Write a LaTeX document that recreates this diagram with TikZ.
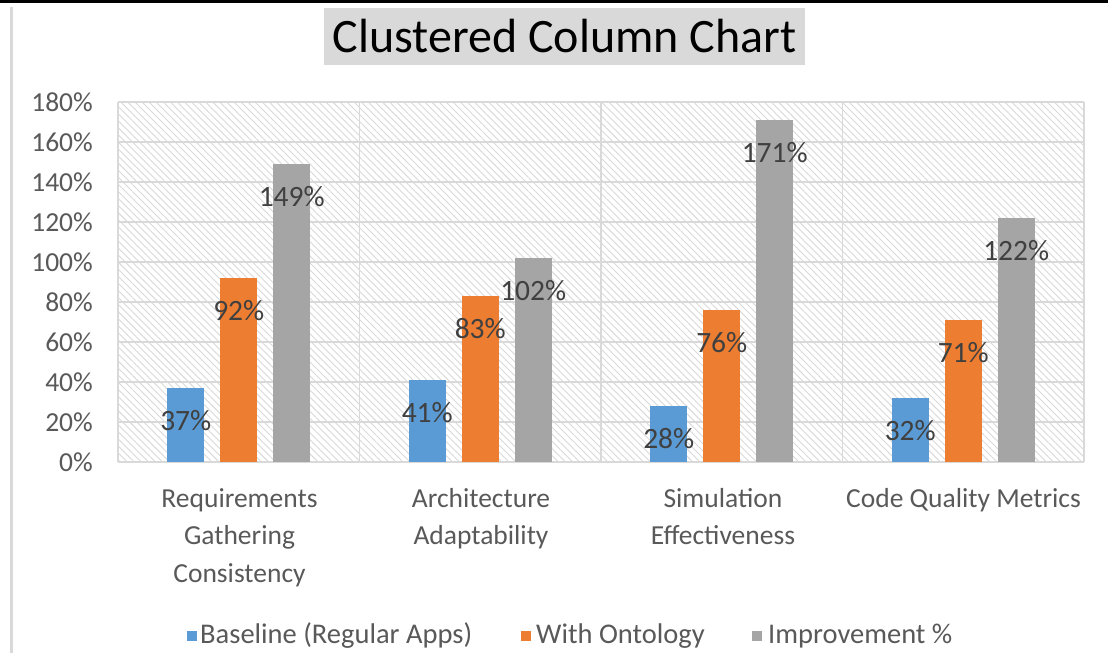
\documentclass[tikz,border=0pt]{standalone}
\usepackage{fontspec}
\setmainfont{Carlito}
\usetikzlibrary{patterns.meta}

\definecolor{baseblue}{HTML}{5B9BD5}
\definecolor{ontoorange}{HTML}{ED7D31}
\definecolor{impgray}{HTML}{A5A5A5}
\definecolor{gridgray}{HTML}{D9D9D9}
\definecolor{hatchgray}{HTML}{D9D9D9}
\definecolor{ticktext}{HTML}{595959}
\definecolor{valtext}{HTML}{404040}

\begin{document}
\begin{tikzpicture}[x=1pt, y=-1pt,
bar/.style = {fill=#1, draw=none},
val/.style = {font=\fontsize{29.5}{32}\selectfont, text=valtext, inner sep=0pt},
tick/.style = {font=\fontsize{27.5}{30}\selectfont, text=ticktext, anchor=east, inner sep=0pt},
catlabel/.style = {font=\fontsize{27.5}{37.5}\selectfont, text=ticktext, align=center, anchor=north, inner sep=0pt},
keytext/.style = {font=\fontsize{28.5}{30}\selectfont, text=ticktext, anchor=west, inner sep=0pt},
gridline/.style = {draw=gridgray, line width=1.5pt}
                        ]
\useasboundingbox (0,0) rectangle (1108,653);
\fill[white] (0,0) rectangle (1108,653);
% frame
\fill[black] (0,0) rectangle (1108,2.5);
\fill[gridgray] (10,7) rectangle (13,653);

% title
\node[fill=gridgray, minimum width=481pt, minimum height=57pt, inner sep=0pt,
      font=\fontsize{48}{52}\selectfont] (title) at (564.5,36.5) {Clustered Column Chart};

% plot area
\fill[pattern={Lines[angle=-45, distance=5pt, line width=0.9pt]}, pattern color=hatchgray]
  (118,102) rectangle (1084,462);
\foreach \k in {0,...,9}
  \draw[gridline] (118,462-40*\k) -- (1084,462-40*\k);
\foreach \k in {0,...,4}
  \draw[gridline] (118+241.5*\k,102) -- (118+241.5*\k,462);

% y ticks
\foreach \k in {0,...,9}{
  \pgfmathtruncatemacro\pct{20*\k}
  \node[tick] (t\k) at (93,462-40*\k) {\pct\%};
}

% bars and value labels
\foreach \c/\a/\b/\d in {1/37/92/149, 2/41/83/102, 3/28/76/171, 4/32/71/122}{
  \pgfmathsetmacro\cx{118+241.5*(\c-0.5)}
  \fill[bar=baseblue]   (\cx-53-18.5,462) rectangle (\cx-53+18.5,462-2*\a);
  \fill[bar=ontoorange] (\cx-18.5,462)    rectangle (\cx+18.5,462-2*\b);
  \fill[bar=impgray]    (\cx+53-18.5,462) rectangle (\cx+53+18.5,462-2*\d);
  \node[val] (va\c) at (\cx-53,462-2*\a+33) {\a\%};
  \node[val] (vb\c) at (\cx,462-2*\b+33)    {\b\%};
  \node[val] (vd\c) at (\cx+53,462-2*\d+33) {\d\%};
}

% category labels
\node[catlabel] (cat1) at (239.5,488) {Requirements\\Gathering\\Consistency};
\node[catlabel] (cat2) at (481,488) {Architecture\\Adaptability};
\node[catlabel] (cat3) at (723,488) {Simulation\\Effectiveness};
\node[catlabel] (cat4) at (963.5,488) {Code Quality Metrics};

% legend
\fill[baseblue]   (187,631) rectangle (197,641);
\node[keytext] (k1) at (200,636) {Baseline (Regular Apps)};
\fill[ontoorange] (521,631) rectangle (531,641);
\node[keytext] (k2) at (536,636) {With Ontology};
\fill[impgray]    (752,631) rectangle (762,641);
\node[keytext] (k3) at (768,636) {Improvement \%};
\end{tikzpicture}
\end{document}
